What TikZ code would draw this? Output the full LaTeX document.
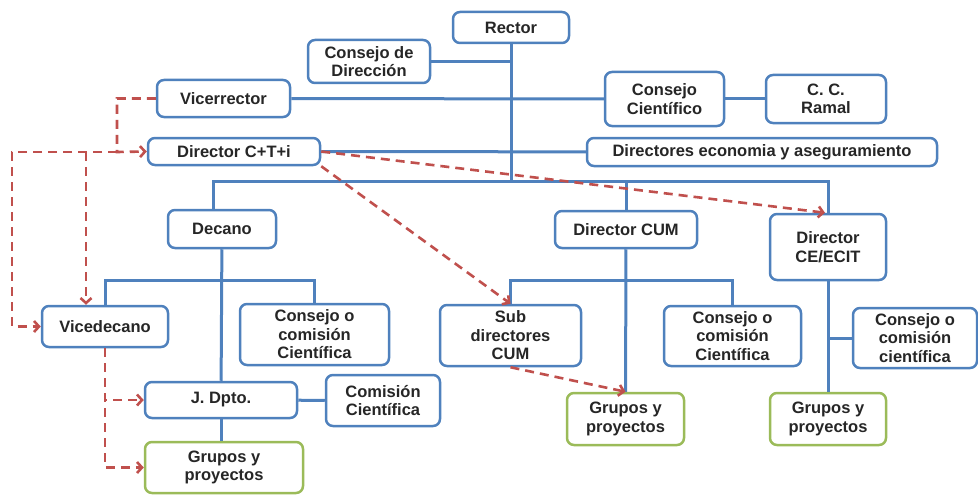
\documentclass[tikz,border=0pt]{standalone}
\usepackage{fontspec}
\setmainfont{Liberation Sans}
\usepackage{tikz}
\usetikzlibrary{calc,arrows.meta}
\definecolor{ofblue}{HTML}{4F81BD}
\definecolor{ofgreen}{HTML}{9BBB59}
\definecolor{ofred}{HTML}{C0504D}
\tikzset{
  box/.style={draw=ofblue, line width=2.5pt, rounded corners=7pt, fill=white,
    align=center, inner sep=2pt, text=black!85,
    font=\fontsize{16.5}{18.5}\selectfont\bfseries},
  gbox/.style={box, draw=ofgreen},
  link/.style={draw=ofblue, line width=3pt},
  rel/.style={draw=ofred, line width=2.6pt, dash pattern=on 9pt off 6pt, ->}
}
\begin{document}
\begin{tikzpicture}[x=1pt,y=-1pt,>={Straight Barb[length=5pt,width=11pt]}]
\useasboundingbox (0,0) rectangle (978,495);

\node[box, minimum width=116pt, minimum height=31pt] (Rector) at (511,27.5) {Rector};
\node[box, minimum width=122pt, minimum height=43pt] (ConsejoDir) at (369,61.5) {Consejo de\\Dirección};
\node[box, minimum width=133pt, minimum height=37pt] (Vicerrector) at (223.5,98.5) {Vicerrector};
\node[box, minimum width=119pt, minimum height=54pt] (ConsejoCient) at (664.5,99) {Consejo\\Científico};
\node[box, minimum width=120pt, minimum height=48pt] (Ramal) at (826,99) {C. C.\\Ramal};
\node[box, minimum width=172pt, minimum height=27pt] (DirCTI) at (234,151.5) {Director C+T+i};
\node[box, minimum width=350pt, minimum height=28pt] (DirEcon) at (762,152) {Directores economia y aseguramiento};
\node[box, minimum width=108pt, minimum height=38pt] (Decano) at (222,229) {Decano};
\node[box, minimum width=142pt, minimum height=37pt] (DirCUM) at (626,229.5) {Director CUM};
\node[box, minimum width=116pt, minimum height=66pt] (DirCE) at (828,247) {Director\\CE/ECIT};
\node[box, minimum width=126pt, minimum height=41pt] (Vicedecano) at (105,326.5) {Vicedecano};
\node[box, minimum width=149pt, minimum height=61pt] (ConsejoL) at (314.5,334.5) {Consejo o\\comisión\\Científica};
\node[box, minimum width=141pt, minimum height=61pt] (SubDir) at (510.5,335.5) {Sub\\directores\\CUM};
\node[box, minimum width=137pt, minimum height=60pt] (ConsejoM) at (732.5,336) {Consejo o\\comisión\\Científica};
\node[box, minimum width=124pt, minimum height=60pt] (ConsejoR) at (915,338) {Consejo o\\comisión\\científica};
\node[box, minimum width=152pt, minimum height=36pt] (JDpto) at (221,400) {J. Dpto.};
\node[box, minimum width=114pt, minimum height=51pt] (ComCient) at (383,400.5) {Comisión\\Científica};
\node[gbox, minimum width=158pt, minimum height=51pt] (GruposL) at (224,467.5) {Grupos y\\proyectos};
\node[gbox, minimum width=117pt, minimum height=52pt] (GruposM) at (625.5,419) {Grupos y\\proyectos};
\node[gbox, minimum width=116pt, minimum height=52pt] (GruposR) at (828,419) {Grupos y\\proyectos};

\coordinate (hub) at (Rector.south |- 0,181);
\coordinate (dk) at (222,280);
\coordinate (cm) at (626,280);
\coordinate (ct) at (117,152);
\coordinate (lv) at (12,152);
\coordinate (vd) at (86,152);

\draw[link] (Rector) -- (hub);
\draw[link] (ConsejoDir) -- (ConsejoDir -| hub);
\draw[link] (Vicerrector) -- (ConsejoCient);
\draw[link] (ConsejoCient) -- (Ramal);
\draw[link] (DirCTI) -- (DirEcon);
\draw[link] ([xshift=-9pt]Decano.north) |- (hub) -| (DirCE);
\draw[link] (hub -| DirCUM) -- (DirCUM);
\draw[link] (Decano) -- (JDpto);
\draw[link] (Vicedecano) |- (dk) -| (ConsejoL);
\draw[link] (JDpto) -- (ComCient);
\draw[link] (JDpto.south) -- (JDpto.south |- GruposL.north);
\draw[link] (DirCUM) -- (GruposM);
\draw[link] (SubDir) |- (cm) -| (ConsejoM);
\draw[link] (DirCE) -- (GruposR);
\draw[link] (DirCE |- ConsejoR) -- (ConsejoR);

\draw[rel] (Vicerrector.west) -| (ct) -- (DirCTI.west);
\draw[rel] (ct) -- (lv) |- (Vicedecano.west);
\draw[rel] (vd) -- (vd |- Vicedecano.north);
\draw[rel] (DirCTI.east) -- ([xshift=-3pt]DirCE.north);
\draw[rel] (DirCTI.south east) -- (SubDir.north);
\draw[rel] (SubDir.south) -- (GruposM.north);
\draw[rel] (Vicedecano.south) |- (JDpto.west);
\draw[rel] (Vicedecano.south) |- (GruposL.west);

\end{tikzpicture}
\end{document}
